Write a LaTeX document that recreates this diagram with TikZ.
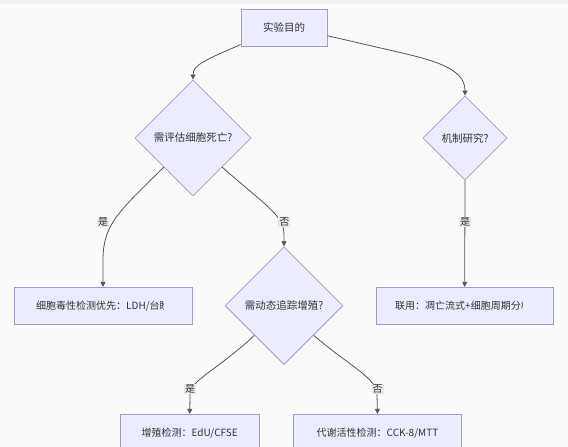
\documentclass[tikz,border=0pt]{standalone}
\usepackage{fontspec}
\setmainfont{Noto Sans CJK SC}
\usetikzlibrary{shapes.geometric,arrows.meta}
\definecolor{nodefill}{HTML}{ECECFF}
\definecolor{nodedraw}{HTML}{A797D8}
\definecolor{edgecol}{HTML}{555555}
\definecolor{txt}{HTML}{333333}
\definecolor{bg}{HTML}{FAFAFA}
\definecolor{band}{HTML}{F0F0F0}
\definecolor{lblbg}{HTML}{E8E8E8}
\tikzset{
  base/.style={fill=nodefill,draw=nodedraw,line width=0.8pt,text=txt,font=\fontsize{10}{12}\selectfont,inner sep=0pt},
  procbox/.style={base,rectangle},
  decide/.style={base,diamond,aspect=1,font=\fontsize{10.5}{12}\selectfont},
  conn/.style={draw=edgecol,line width=0.8pt,-{Triangle[length=5pt,width=5pt]}},
  lbl/.style={fill=lblbg,text=txt,font=\fontsize{10}{12}\selectfont,inner sep=1pt},
  plain/.style={text=txt,font=\fontsize{10}{12}\selectfont,inner sep=0pt}
}
\begin{document}
\begin{tikzpicture}[x=1pt,y=-1pt]
\fill[bg] (0,0) rectangle (568,447);
\fill[band] (0,0) rectangle (568,4);
\useasboundingbox (0,0) rectangle (568,447);

% nodes
\node[procbox,minimum width=86pt,minimum height=37pt,font=\fontsize{10.5}{12}\selectfont] (top) at (284,27.7) {实验目的};
\node[decide,minimum width=116pt,minimum height=116pt] (d1) at (193,138) {需评估细胞死亡?};
\node[decide,minimum width=84pt,minimum height=84pt] (d2) at (465,138) {机制研究?};
\node[decide,minimum width=118pt,minimum height=118pt] (d3) at (284,305.7) {需动态追踪增殖?};
\node[procbox,minimum width=178pt,minimum height=37pt] (b1) at (103,305.8) {};
\node[procbox,minimum width=177pt,minimum height=37pt] (b2) at (464.7,305.8) {};
\node[procbox,minimum width=139pt,minimum height=37pt] (b3) at (189.7,432.8) {增殖检测：EdU/CFSE};
\node[procbox,minimum width=168pt,minimum height=37pt] (b4) at (377.5,432.8) {代谢活性检测：CCK-8/MTT};

% truncated labels of the two wide boxes
\begin{scope}
\clip (b1.north west) rectangle ([xshift=-29pt]b1.south east);
\node[plain,anchor=west] (b1t) at (36,305.8) {细胞毒性检测优先：LDH/台盼};
\end{scope}
\begin{scope}
\clip (b2.north west) rectangle ([xshift=-31pt]b2.south east);
\node[plain,anchor=west] (b2t) at (395,305.8) {联用：凋亡流式+细胞周期分析};
\end{scope}

% connectors
\draw[conn] ([yshift=2pt]top.south west) .. controls (205,60) and (193,65) .. (d1.north);
\draw[conn] ([yshift=-8pt]top.east) -- (400,52.5) .. controls (445,62.7) and (465,72) .. (d2.north);
\draw[conn] (d1.south west) .. controls (118,212) and (103,225) .. (103,260) -- (b1.north);
\draw[conn] (d1.south east) .. controls (265,205) and (284,215) .. (284,235) -- (d3.north);
\draw[conn] (d2.south) -- (b2.north);
\draw[conn] (d3.south west) .. controls (215,372) and (190,380) .. (190,395) -- (b3.north);
\draw[conn] (d3.south east) .. controls (352,368) and (377,378) .. (377,395) -- (b4.north);

% edge labels
\node[lbl] (l1) at (103,222) {是};
\node[lbl] (l2) at (284.3,222) {否};
\node[lbl] (l3) at (465,222) {是};
\node[lbl] (l4) at (190,389) {是};
\node[lbl] (l5) at (377.7,389) {否};
\end{tikzpicture}
\end{document}
